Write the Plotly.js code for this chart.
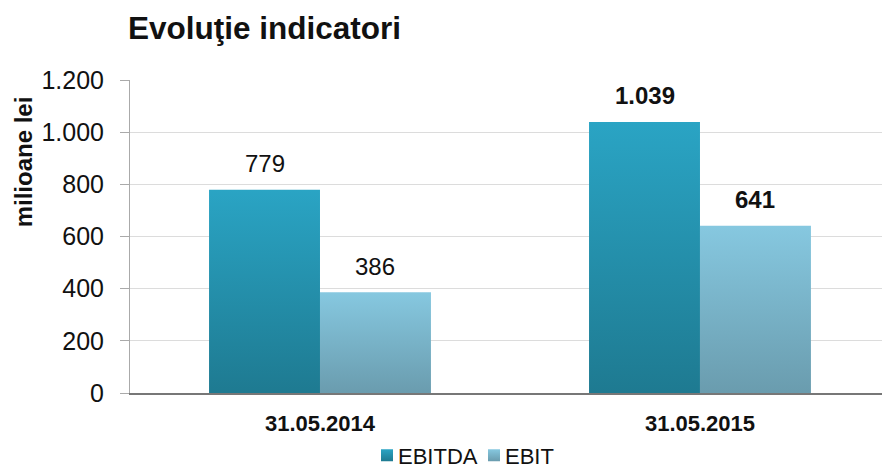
<!DOCTYPE html>
<html>
<head>
<meta charset="utf-8">
<script src="https://cdn.plot.ly/plotly-3.0.1.min.js"></script>
<style>html,body{margin:0;padding:0;background:#fff;}#chart{width:882px;height:469px;}</style>
</head>
<body>
<div id="chart"></div>
<script>
var categories = ["31.05.2014", "31.05.2015"];
var seriesNames = ["EBITDA", "EBIT"];
var ebitda = [779, 1039];
var ebit = [386, 641];
var yTicks = [0, 200, 400, 600, 800, 1000, 1200];
var labelBold = [false, true]; // per category

var FONT = "Liberation Sans, Arial, Helvetica, sans-serif";
var bargap = 0.416;
var colEBITDA = "#2590ad";
var colEBIT = "#78b4c9";

function fmt(v) {
  return String(v).replace(/\B(?=(\d{3})+(?!\d))/g, ".");
}

var traces = [
  {type: "bar", name: seriesNames[0], x: categories, y: ebitda,
   marker: {color: colEBITDA, line: {width: 0}}, hoverinfo: "none"},
  {type: "bar", name: seriesNames[1], x: categories, y: ebit,
   marker: {color: colEBIT, line: {width: 0}}, hoverinfo: "none"}
];

var off = (1 - bargap) / 4;
var annotations = [];
[ebitda, ebit].forEach(function (arr, si) {
  arr.forEach(function (v, ci) {
    var t = fmt(v);
    annotations.push({
      x: ci + (si === 0 ? -off : off), y: v, xref: "x", yref: "y",
      text: labelBold[ci] ? "<b>" + t + "</b>" : t,
      showarrow: false, yanchor: "middle", yshift: 26,
      font: {family: FONT, size: 24, color: "#111"}
    });
  });
});
annotations.push({
  text: "<b>milioane lei</b>", xref: "paper", yref: "paper",
  x: (23 - 130) / 752, y: (393 - 162) / 313.5, textangle: -90,
  showarrow: false, xanchor: "center", yanchor: "middle",
  font: {family: FONT, size: 24, color: "#111"}
});

var layout = {
  width: 882, height: 469,
  margin: {l: 130, r: 0, t: 79.5, b: 76, autoexpand: false},
  paper_bgcolor: "#fff", plot_bgcolor: "#fff",
  barmode: "group", bargap: bargap, bargroupgap: 0,
  separators: ",.",
  font: {family: FONT, color: "#111"},
  title: {text: "<b>Evoluţie indicatori</b>", xref: "container", yref: "container",
          x: 128 / 882, xanchor: "left", y: 1 - 28 / 469, yanchor: "middle",
          font: {family: FONT, size: 31.5, color: "#111"}},
  xaxis: {type: "category", range: [-0.5, 1.479], showgrid: false,
          showline: true, linecolor: "#777", linewidth: 1.5,
          ticks: "", ticklabelstandoff: 10,
          tickfont: {family: FONT, size: 22, color: "#111", weight: "bold"}},
  yaxis: {range: [0, 1200], tickvals: yTicks, ticktext: yTicks.map(fmt),
          showgrid: true, gridcolor: "#dcdcdc", gridwidth: 1.2,
          showline: true, linecolor: "#aaa", linewidth: 1,
          ticks: "outside", ticklen: 9, tickcolor: "#aaa",
          ticklabelstandoff: 11, zeroline: false,
          tickfont: {family: FONT, size: 25, color: "#111"}},
  legend: {orientation: "h", x: (367 - 130) / 752, xanchor: "left",
           y: (393 - 455.5) / 313.5, yanchor: "middle",
           font: {family: FONT, size: 22, color: "#111"},
           itemwidth: 30, entrywidth: 62, entrywidthmode: "pixels",
           tracegroupgap: 0, bgcolor: "rgba(0,0,0,0)"},
  annotations: annotations,
  showlegend: true
};

Plotly.newPlot("chart", traces, layout, {displayModeBar: false, staticPlot: true}).then(function (gd) {
  var svg = gd.querySelector("svg.main-svg");
  var defs = svg.querySelector("defs");
  var ns = "http://www.w3.org/2000/svg";
  function grad(id, top, bottom) {
    var g = document.createElementNS(ns, "linearGradient");
    g.setAttribute("id", id);
    g.setAttribute("x1", "0"); g.setAttribute("y1", "0");
    g.setAttribute("x2", "0"); g.setAttribute("y2", "1");
    [[0, top], [1, bottom]].forEach(function (s) {
      var st = document.createElementNS(ns, "stop");
      st.setAttribute("offset", s[0]);
      st.setAttribute("stop-color", s[1]);
      g.appendChild(st);
    });
    defs.appendChild(g);
  }
  grad("gEBITDA", "#2aa4c4", "#1e7a91");
  grad("gEBIT", "#86c8e0", "#6a9cae");
  var ids = ["gEBITDA", "gEBIT"];
  gd.querySelectorAll(".barlayer .trace").forEach(function (tr, i) {
    tr.querySelectorAll("path").forEach(function (p) { p.style.fill = "url(#" + ids[i] + ")"; });
  });
  gd.querySelectorAll(".legend .traces").forEach(function (tr, i) {
    tr.querySelectorAll(".legendpoints path").forEach(function (p) { p.style.fill = "url(#" + ids[i] + ")"; p.style.stroke = "none"; });
    tr.querySelectorAll("text.legendtext").forEach(function (t) {
      var x = parseFloat(t.getAttribute("x")) || 40;
      t.setAttribute("x", x - 9);
      t.querySelectorAll("tspan[x]").forEach(function (s) { s.setAttribute("x", parseFloat(s.getAttribute("x")) - 9); });
    });
  });
});
</script>
</body>
</html>
